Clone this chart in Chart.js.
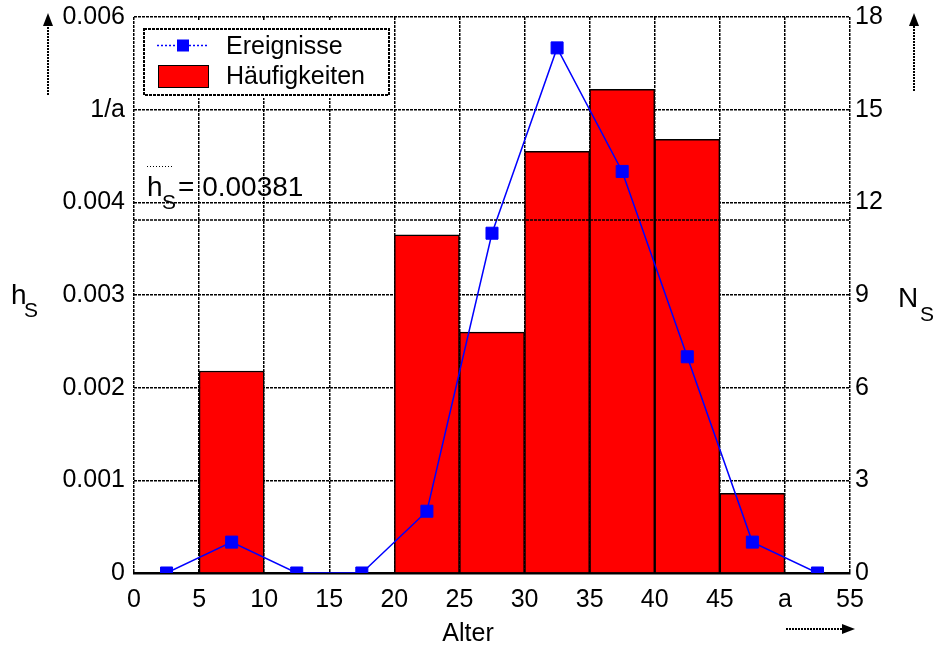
<!DOCTYPE html>
<html>
<head>
<meta charset="utf-8">
<script src="https://cdn.jsdelivr.net/npm/chart.js@4.4.0/dist/chart.umd.min.js"></script>
<style>
    body { margin: 0; background: #fff; }
    #wrap { width: 936px; height: 648px; }
</style>
</head>
<body>
<div id="wrap"><canvas id="histChart" width="936" height="648"></canvas></div>
<script>
// Chart data
const binCenters = [2.5, 7.5, 12.5, 17.5, 22.5, 27.5, 32.5, 37.5, 42.5, 47.5, 52.5];
const haeufigkeiten = [0, 0.00218, 0, 0, 0.00365, 0.0026, 0.00455, 0.00522, 0.00468, 0.00086, 0];
const ereignisse = [0, 1, 0, 0, 2, 11, 17, 13, 7, 1, 0];
const meanH = 0.00381;
const xTickLabels = { 50: 'a' };
const leftTickLabels = { '0.005': '1/a' };

const FONT = "'Liberation Sans', Arial, sans-serif";
Chart.defaults.color = '#000';
Chart.defaults.font.family = FONT;
Chart.defaults.font.size = 25;

function font(size) {
    return size + 'px ' + FONT;
}

// arrow with dotted shaft
function drawArrow(ctx, x1, y1, x2, y2) {
    const ang = Math.atan2(y2 - y1, x2 - x1);
    const c = Math.cos(ang), s = Math.sin(ang);
    ctx.save();
    ctx.strokeStyle = '#000';
    ctx.fillStyle = '#000';
    ctx.lineWidth = 2;
    ctx.setLineDash([2, 1]);
    ctx.beginPath();
    ctx.moveTo(x1, y1);
    ctx.lineTo(x2 - 10 * c, y2 - 10 * s);
    ctx.stroke();
    ctx.setLineDash([]);
    ctx.beginPath();
    ctx.moveTo(x2, y2);
    ctx.lineTo(x2 - 13 * c + 5 * s, y2 - 13 * s - 5 * c);
    ctx.lineTo(x2 - 13 * c - 5 * s, y2 - 13 * s + 5 * c);
    ctx.closePath();
    ctx.fill();
    ctx.restore();
}

// mean line drawn over the bars
const meanLinePlugin = {
    id: 'meanLine',
    afterDatasetsDraw(chart) {
        const ctx = chart.ctx;
        const area = chart.chartArea;
        const y = Math.round(chart.scales.y.getPixelForValue(meanH));
        ctx.save();
        ctx.strokeStyle = '#000';
        ctx.lineWidth = 1.5;
        ctx.setLineDash([3, 1]);
        ctx.beginPath();
        ctx.moveTo(area.left, y);
        ctx.lineTo(area.right, y);
        ctx.stroke();

        // label h_S = 0.00381
        const x0 = area.left + 13;
        const base = y - 24;
        ctx.setLineDash([]);
        ctx.fillStyle = '#000';
        ctx.textBaseline = 'alphabetic';
        ctx.textAlign = 'left';
        ctx.font = font(28);
        ctx.fillText('h', x0, base);
        ctx.font = font(21);
        ctx.fillText('S', x0 + 15, base + 13);
        ctx.font = font(28);
        ctx.fillText('= ' + meanH.toFixed(5), x0 + 31, base);
        // dotted overline
        ctx.lineWidth = 1;
        ctx.setLineDash([1, 2]);
        ctx.beginPath();
        ctx.moveTo(x0, base - 29.5);
        ctx.lineTo(x0 + 26, base - 29.5);
        ctx.stroke();
        ctx.restore();
    },
    afterDraw(chart) {
        const ctx = chart.ctx;
        const area = chart.chartArea;
        ctx.save();

        // legend
        ctx.fillStyle = '#fff';
        ctx.fillRect(area.left + 2, 21, 257, 77);
        ctx.strokeStyle = '#000';
        ctx.lineWidth = 2;
        ctx.setLineDash([3, 1]);
        ctx.strokeRect(144, 29, 245, 66);

        ctx.strokeStyle = '#0000ff';
        ctx.lineWidth = 1.5;
        ctx.setLineDash([2, 2]);
        ctx.beginPath();
        ctx.moveTo(157, 45.5);
        ctx.lineTo(208, 45.5);
        ctx.stroke();
        ctx.setLineDash([]);
        ctx.fillStyle = '#0000ff';
        ctx.fillRect(177, 39.5, 12, 12);

        ctx.fillStyle = '#ff0000';
        ctx.fillRect(158, 65, 50, 22);
        ctx.strokeStyle = '#000';
        ctx.lineWidth = 1;
        ctx.strokeRect(158.5, 65.5, 50, 22);

        ctx.fillStyle = '#000';
        ctx.font = font(25);
        ctx.textBaseline = 'middle';
        ctx.fillText('Ereignisse', 226, 47);
        ctx.fillText('Häufigkeiten', 226, 77);

        // axis titles
        ctx.textBaseline = 'alphabetic';
        ctx.font = font(28);
        ctx.fillText('h', 11, 304);
        ctx.fillText('N', 898, 307);
        ctx.font = font(21);
        ctx.fillText('S', 24, 317);
        ctx.fillText('S', 920, 321);
        ctx.font = font(25);
        ctx.textAlign = 'center';
        ctx.fillText('Alter', 468, 641);
        ctx.restore();

        // arrows
        drawArrow(ctx, 48, 95, 48, 13);
        drawArrow(ctx, 914, 91, 914, 13);
        drawArrow(ctx, 786, 629, 855, 629);
    }
};

// keep the plot box fixed, ignore label overhang
function fixWidth(w) {
    return function(scale) {
        scale.width = w;
        scale.paddingTop = 0;
        scale.paddingBottom = 0;
    };
}

function buildChart() {
    const ctx = document.getElementById('histChart');

    const barData = binCenters.map((x, i) => ({ x: x, y: haeufigkeiten[i] > 0 ? haeufigkeiten[i] : null }));
    const lineData = binCenters.map((x, i) => ({ x: x, y: ereignisse[i] }));

    const gridStyle = { color: '#000', lineWidth: 1.5, drawTicks: false };

    new Chart(ctx, {
        type: 'bar',
        data: {
            datasets: [{
                type: 'line',
                label: 'Ereignisse',
                data: lineData,
                yAxisID: 'y2',
                borderColor: '#0000ff',
                backgroundColor: '#0000ff',
                borderWidth: 1.5,
                pointStyle: 'rect',
                pointRadius: 8.5,
                pointBorderWidth: 1,
                pointBorderColor: '#0000ff',
                tension: 0,
                order: 0
            }, {
                type: 'bar',
                label: 'Häufigkeiten',
                data: barData,
                yAxisID: 'y',
                backgroundColor: '#ff0000',
                borderColor: '#000',
                borderWidth: 1.5,
                barPercentage: 1,
                categoryPercentage: 1,
                order: 1
            }]
        },
        options: {
            responsive: false,
            animation: false,
            devicePixelRatio: 1,
            layout: { padding: { top: 17, left: 0, right: 0, bottom: 0 } },
            plugins: {
                legend: { display: false },
                tooltip: { enabled: false }
            },
            scales: {
                x: {
                    type: 'linear',
                    min: 0,
                    max: 55,
                    offset: false,
                    grid: Object.assign({ offset: false }, gridStyle),
                    border: { display: true, color: '#000', width: 2.5, dash: [3, 1] },
                    ticks: {
                        stepSize: 5,
                        autoSkip: false,
                        maxRotation: 0,
                        padding: 12,
                        font: { size: 25 },
                        callback: function(value) {
                            return xTickLabels[value] || String(value);
                        }
                    },
                    afterFit: function(scale) {
                        scale.height = 75;
                        scale.paddingLeft = 0;
                        scale.paddingRight = 0;
                    }
                },
                y: {
                    position: 'left',
                    min: 0,
                    max: 0.006,
                    grid: gridStyle,
                    border: { display: false, dash: [3, 1] },
                    ticks: {
                        stepSize: 0.001,
                        padding: 9,
                        font: { size: 25 },
                        callback: function(value) {
                            const key = value.toFixed(3);
                            if (leftTickLabels[key]) return leftTickLabels[key];
                            return value === 0 ? '0' : key;
                        }
                    },
                    afterFit: fixWidth(134)
                },
                y2: {
                    position: 'right',
                    min: 0,
                    max: 18,
                    grid: { display: false, drawTicks: false },
                    border: { display: false },
                    ticks: {
                        stepSize: 3,
                        padding: 5,
                        font: { size: 25 }
                    },
                    afterFit: fixWidth(86)
                }
            }
        },
        plugins: [meanLinePlugin]
    });
}

buildChart();
</script>
</body>
</html>
